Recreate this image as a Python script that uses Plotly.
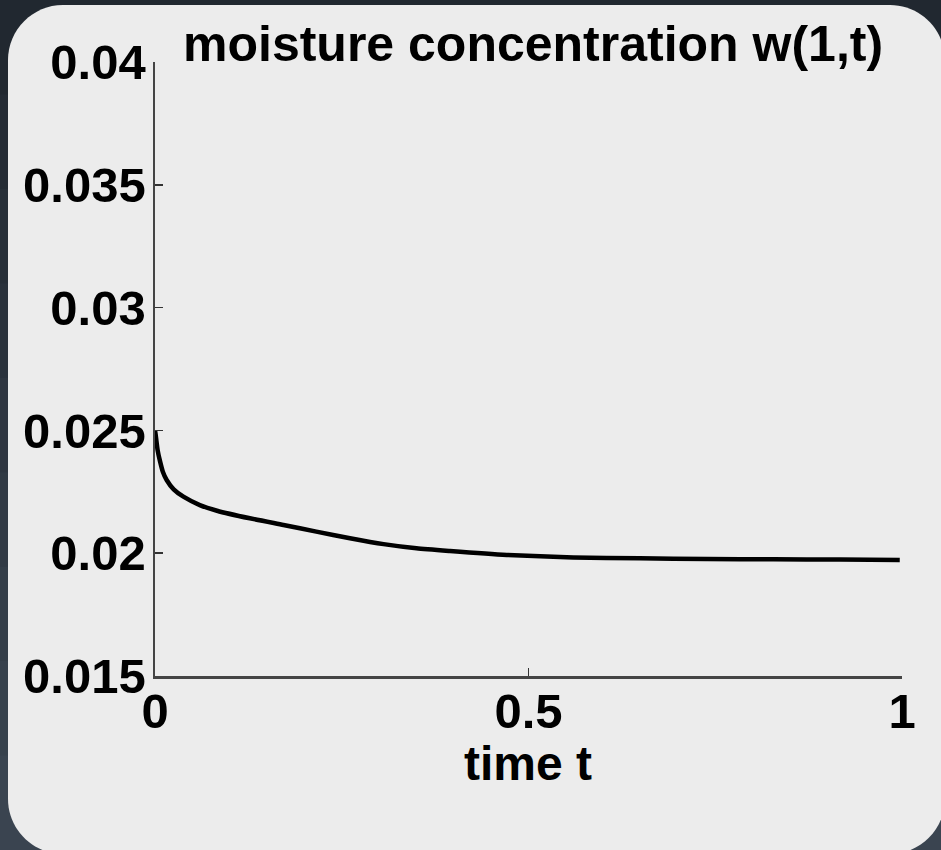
import plotly.graph_objects as go

# ---- data ----
time_t = [0.0, 0.001, 0.002, 0.0035, 0.0067, 0.0105, 0.0156, 0.025, 0.038, 0.060,
          0.083, 0.127, 0.172, 0.216, 0.261, 0.306, 0.350, 0.395, 0.471, 0.56,
          0.649, 0.739, 0.828, 0.917, 0.997]
moisture_w = [0.0250, 0.02480, 0.02455, 0.02420, 0.02375, 0.02332, 0.02298, 0.02260,
              0.02230, 0.02196, 0.02173, 0.02142, 0.02115, 0.02088, 0.02061, 0.02037,
              0.02020, 0.02009, 0.01993, 0.01983, 0.01979, 0.01976, 0.01975, 0.01974,
              0.01972]
y_ticks = [0.015, 0.02, 0.025, 0.03, 0.035, 0.04]
y_tick_labels = ["0.015", "0.02", "0.025", "0.03", "0.035", "0.04"]
x_ticks = [0, 0.5, 1]
x_tick_labels = ["0", "0.5", "1"]
title_text = "moisture concentration w(1,t)"
x_title = "time t"

# ---- layout geometry (pixels) ----
W, H = 941, 850
L, R, T, B = 155, 902, 62, 676
pw, ph = R - L, B - T


def px(x):
    return (x - L) / pw


def py(y):
    return (B - y) / ph


FAM = "Liberation Sans, Arial, Helvetica, sans-serif"
TICKFONT = dict(family=FAM, size=49, color="black", weight="bold")
XTITLEFONT = dict(family=FAM, size=48, color="black", weight="bold")
TITLEFONT = dict(family=FAM, size=50, color="black", weight="bold")

fig = go.Figure()
fig.add_trace(go.Scatter(x=time_t, y=moisture_w, mode="lines",
                         line=dict(color="black", width=4.5, shape="spline",
                                   smoothing=0.6),
                         hoverinfo="skip", showlegend=False))

shapes = []
# dark gradient background bands
dark_cols = ["#212830", "#242b34", "#272f38", "#2a323c", "#2e3640",
             "#313a44", "#343e48", "#37414c", "#3a4450"]
nb = len(dark_cols)
for i, c in enumerate(dark_cols):
    y0 = H * i / nb
    y1 = H * (i + 1) / nb + 1
    shapes.append(dict(type="rect", xref="paper", yref="paper",
                       x0=px(-5), x1=px(W + 5), y0=py(y1), y1=py(y0),
                       fillcolor=c, line=dict(width=0), layer="below"))

# rounded light panel
x0p, x1p, y0p, y1p, r = 8, 945, 5, 854, 55
k = 0.45
pts = [
    ("M", (x0p + r, y0p)),
    ("L", (x1p - r, y0p)),
    ("C", (x1p - r * k, y0p), (x1p, y0p + r * k), (x1p, y0p + r)),
    ("L", (x1p, y1p - r)),
    ("C", (x1p, y1p - r * k), (x1p - r * k, y1p), (x1p - r, y1p)),
    ("L", (x0p + r, y1p)),
    ("C", (x0p + r * k, y1p), (x0p, y1p - r * k), (x0p, y1p - r)),
    ("L", (x0p, y0p + r)),
    ("C", (x0p, y0p + r * k), (x0p + r * k, y0p), (x0p + r, y0p)),
]
path = ""
for item in pts:
    cmd = item[0]
    coords = " ".join(f"{px(a):.5f},{py(b):.5f}" for a, b in item[1:])
    path += f"{cmd} {coords} "
path += "Z"
shapes.append(dict(type="path", xref="paper", yref="paper", path=path,
                   fillcolor="#ececec", line=dict(width=0), layer="below"))

fig.update_layout(
    width=W, height=H,
    margin=dict(l=L, r=W - R, t=T, b=H - B, pad=0),
    paper_bgcolor="#2c343e",
    plot_bgcolor="rgba(0,0,0,0)",
    shapes=shapes,
    showlegend=False,
    xaxis=dict(range=[0, 1], tickvals=x_ticks, ticktext=x_tick_labels,
               ticks="inside", ticklen=8, tickwidth=1.5, tickcolor="#333",
               showline=True, linecolor="#444", linewidth=2.5,
               showgrid=False, zeroline=False, tickfont=TICKFONT,
               ticklabelstandoff=-9, fixedrange=True),
    yaxis=dict(range=[0.015, 0.04], tickvals=y_ticks, ticktext=y_tick_labels,
               ticks="inside", ticklen=8, tickwidth=1.5, tickcolor="#333",
               showline=True, linecolor="#444", linewidth=2.5,
               showgrid=False, zeroline=False, tickfont=TICKFONT,
               ticklabelstandoff=-3, fixedrange=True),
    annotations=[
        dict(text=title_text, xref="paper", yref="paper",
             x=px(533), y=py(44), xanchor="center", yanchor="middle",
             showarrow=False, font=TITLEFONT),
        dict(text=x_title, xref="paper", yref="paper",
             x=px(528), y=py(763), xanchor="center", yanchor="middle",
             showarrow=False, font=XTITLEFONT),
    ],
)

fig.write_html("out.html",
               config={"displayModeBar": False, "staticPlot": True},
               post_script="document.body.style.margin='0px';"
                           "document.body.style.overflow='hidden';")
